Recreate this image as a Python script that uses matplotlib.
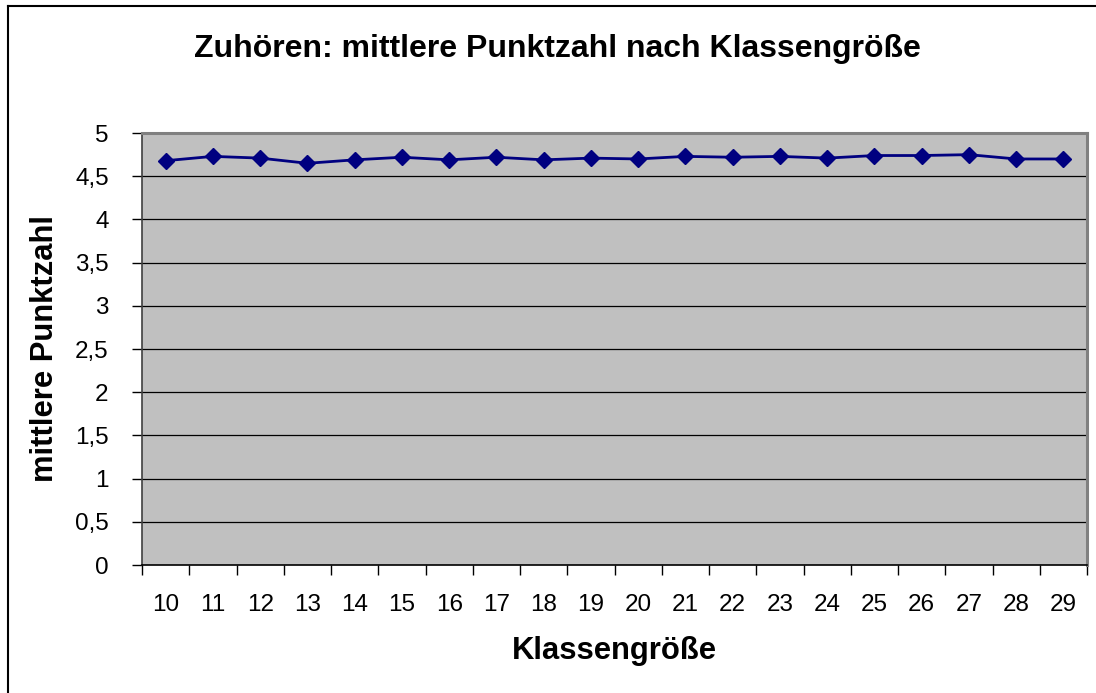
import matplotlib.pyplot as plt
import numpy as np

# Klassengröße und mittlere Punktzahl
klassen = ['10', '11', '12', '13', '14', '15', '16', '17', '18', '19',
           '20', '21', '22', '23', '24', '25', '26', '27', '28', '29']
punkte = [4.68, 4.73, 4.71, 4.65, 4.69, 4.72, 4.69, 4.72, 4.69, 4.71,
          4.70, 4.73, 4.72, 4.73, 4.71, 4.74, 4.74, 4.75, 4.70, 4.70]
y_ticks = [0, 0.5, 1, 1.5, 2, 2.5, 3, 3.5, 4, 4.5, 5]
y_labels = ['0', '0,5', '1', '1,5', '2', '2,5', '3', '3,5', '4', '4,5', '5']

plt.rcParams['font.family'] = ['Liberation Sans', 'DejaVu Sans']

fig = plt.figure(figsize=(10.96, 6.93), dpi=100)
ax = fig.add_axes([0.1296, 0.1847, 0.8622, 0.6233])
ax.set_facecolor('#C0C0C0')

x = np.arange(len(klassen))
ax.plot(x, punkte, color='#000080', marker='D', markersize=8.5, linewidth=2, zorder=3)

ax.set_xlim(-0.5, len(klassen) - 0.5)
ax.set_ylim(0, 5)

# horizontal grid lines
for v in y_ticks[1:-1]:
    ax.axhline(v, color='black', linewidth=0.9, zorder=1)

ax.set_yticks(y_ticks)
ax.set_yticklabels(y_labels, fontsize=17.5)
ax.set_xticks(np.arange(len(klassen) + 1) - 0.5)
ax.set_xticklabels([])
ax.set_xticks(x, minor=True)
ax.set_xticklabels(klassen, minor=True, fontsize=17.5)
ax.tick_params(axis='x', which='minor', length=0, pad=21)
ax.tick_params(axis='x', which='major', length=7, width=1, direction='out')
ax.tick_params(axis='y', length=7, width=1, direction='out', pad=17)

ax.spines['top'].set_color('#808080')
ax.spines['top'].set_linewidth(2.2)
ax.spines['right'].set_color('#808080')
ax.spines['right'].set_linewidth(2.2)
ax.spines['left'].set_color('#404040')
ax.spines['left'].set_linewidth(1.2)
ax.spines['bottom'].set_color('black')
ax.spines['bottom'].set_linewidth(1.2)

fig.text(557 / 1096, 1 - 49 / 693, 'Zuhören: mittlere Punktzahl nach Klassengröße',
         fontsize=23, fontweight='bold', ha='center', va='center')
fig.text(614 / 1096, 1 - 651 / 693, 'Klassengröße',
         fontsize=22.3, fontweight='bold', ha='center', va='center')
fig.text(45 / 1096, 1 - 348 / 693, 'mittlere Punktzahl',
         fontsize=22.3, fontweight='bold', ha='center', va='center', rotation=90)

# outer chart border (top and left visible)
fig.add_artist(plt.Line2D([8 / 1096, 1], [1 - 6 / 693, 1 - 6 / 693], color='black', linewidth=1.5))
fig.add_artist(plt.Line2D([8 / 1096, 8 / 1096], [0, 1 - 6 / 693], color='black', linewidth=1.5))

fig.savefig('out.png', dpi=100)
